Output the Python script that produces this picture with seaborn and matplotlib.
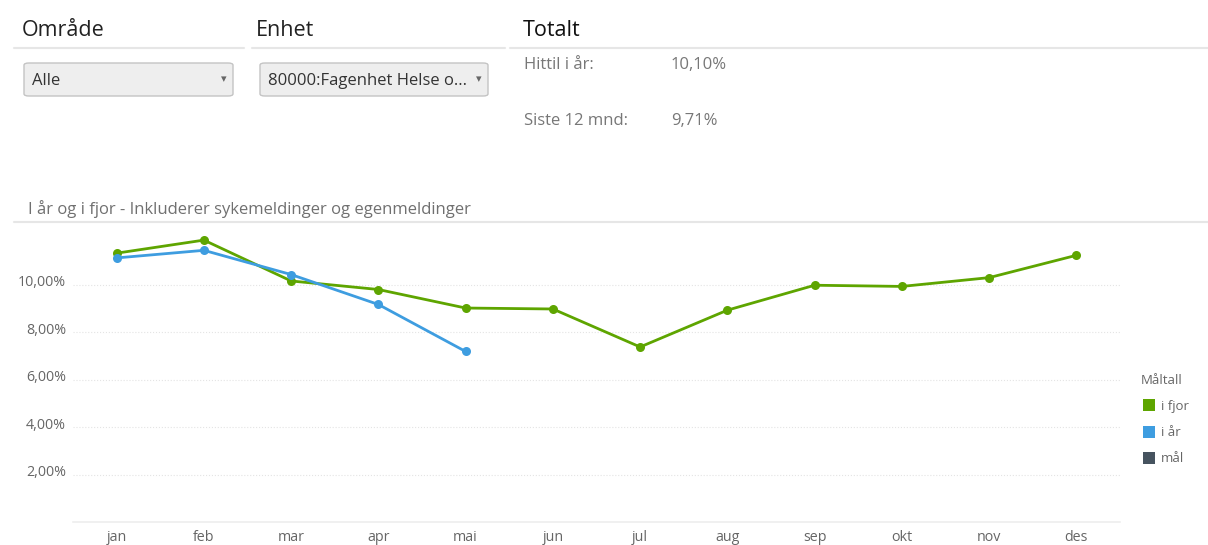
import matplotlib
matplotlib.use("Agg")
import matplotlib.pyplot as plt
import matplotlib.transforms as mtransforms
import seaborn as sns
import pandas as pd
from matplotlib.lines import Line2D
from matplotlib.patches import FancyBboxPatch

# data
months = ["jan", "feb", "mar", "apr", "mai", "jun", "jul", "aug", "sep", "okt", "nov", "des"]
i_fjor = [11.32, 11.87, 10.15, 9.79, 9.01, 8.97, 7.37, 8.92, 9.97, 9.92, 10.29, 11.23]
i_aar = [11.12, 11.44, 10.42, 9.16, 7.18]
series_names = ["i fjor", "i år", "mål"]
series_colors = ["#5ea500", "#3e9de0", "#46535f"]
y_ticks = [2, 4, 6, 8, 10]
y_tick_labels = ["2,00%", "4,00%", "6,00%", "8,00%", "10,00%"]

W, H = 1208, 545


def fx(x):
    return x / W


def fy(y):
    return 1 - y / H


def main():
    sns.set_style("white")
    plt.rcParams["font.family"] = ["Open Sans", "DejaVu Sans"]

    rows = []
    for m, v in zip(months, i_fjor):
        rows.append({"måned": m, "verdi": v, "Måltall": "i fjor"})
    for m, v in zip(months, i_aar):
        rows.append({"måned": m, "verdi": v, "Måltall": "i år"})
    df = pd.DataFrame(rows)
    df["pos"] = df["måned"].map({m: i for i, m in enumerate(months)})
    palette = dict(zip(series_names, series_colors))

    fig = plt.figure(figsize=(W / 100, H / 100), dpi=100)
    ax = fig.add_axes([fx(73), fy(522), fx(1120) - fx(73), fy(228) - fy(522)])

    sns.lineplot(data=df, x="pos", y="verdi", hue="Måltall", hue_order=["i fjor", "i år"],
                 palette=palette, marker="o", markersize=6.5, markeredgewidth=0,
                 linewidth=2, ax=ax, legend=False)

    ax.set_xlim(-0.5, 11.5)
    ax.set_ylim(0, 12.38)
    ax.set_xticks(range(len(months)))
    ax.set_xticklabels(months)
    ax.set_yticks(y_ticks)
    ax.set_yticklabels(y_tick_labels)
    ax.set_xlabel("")
    ax.set_ylabel("")
    ax.tick_params(axis="both", length=0, labelsize=10.3, labelcolor="#666666")
    ax.tick_params(axis="y", pad=5)
    ax.tick_params(axis="x", pad=5.5)
    # y labels sit a little above their gridline in the reference
    up = mtransforms.ScaledTranslation(0, 4 / 100, fig.dpi_scale_trans)
    for lbl in ax.get_yticklabels():
        lbl.set_transform(lbl.get_transform() + up)
    ax.yaxis.grid(True, color="#e4e4e4", linestyle=":", linewidth=0.8)
    ax.xaxis.grid(False)
    for side in ["top", "right", "left"]:
        ax.spines[side].set_visible(False)
    ax.spines["bottom"].set_color("#eeeeee")
    ax.spines["bottom"].set_linewidth(1.2)

    # header
    gray = "#777777"
    fig.text(fx(22), fy(31), "Område", fontsize=15.5, color="#222222", va="center")
    fig.text(fx(256), fy(31), "Enhet", fontsize=15.5, color="#222222", va="center")
    fig.text(fx(523), fy(31), "Totalt", fontsize=15.5, color="#111111", va="center")
    for x0, x1 in [(14, 244), (252, 505), (510, 1208)]:
        fig.add_artist(Line2D([fx(x0), fx(x1)], [fy(48), fy(48)], color="#e6e6e6", linewidth=1.5))

    for x0, x1, label in [(24, 233, "Alle"), (260, 488, "80000:Fagenhet Helse o...")]:
        box = FancyBboxPatch((fx(x0), fy(96)), fx(x1 - x0), fy(63) - fy(96),
                             boxstyle="round,pad=0,rounding_size=0.004",
                             transform=fig.transFigure, facecolor="#eeeeee",
                             edgecolor="#c4c4c4", linewidth=1)
        fig.add_artist(box)
        fig.text(fx(x0 + 8), fy(81), label, fontsize=12, color="#333333", va="center")
        fig.text(fx(x1 - 9), fy(79), "▾", fontsize=8, color="#666666", va="center", ha="center",
                 family=["DejaVu Sans"])

    fig.text(fx(524), fy(65), "Hittil i år:", fontsize=12, color=gray, va="center")
    fig.text(fx(671), fy(65), "10,10%", fontsize=12, color=gray, va="center")
    fig.text(fx(524), fy(121), "Siste 12 mnd:", fontsize=12, color=gray, va="center")
    fig.text(fx(671), fy(121), "9,71%", fontsize=12, color=gray, va="center")

    # chart title
    fig.text(fx(28), fy(209), "I år og i fjor - Inkluderer sykemeldinger og egenmeldinger",
             fontsize=12, color="#707070", va="center")
    fig.add_artist(Line2D([fx(14), fx(1208)], [fy(222), fy(222)], color="#e6e6e6", linewidth=1.5))

    # legend
    handles = [Line2D([], [], marker="s", linestyle="", markersize=8, markeredgewidth=0,
                      color=palette[n]) for n in series_names]
    leg = fig.legend(handles, series_names, title="Måltall", loc="upper left",
                     bbox_to_anchor=(fx(1129), fy(362)), frameon=False, fontsize=9.5,
                     title_fontsize=9.5, handletextpad=0.3, labelspacing=1.0,
                     handlelength=1.2, alignment="left")
    for t in leg.get_texts():
        t.set_color("#666666")
    leg.get_title().set_color("#666666")

    fig.savefig("out.png", dpi=100)
    plt.close(fig)


if __name__ == "__main__":
    main()
